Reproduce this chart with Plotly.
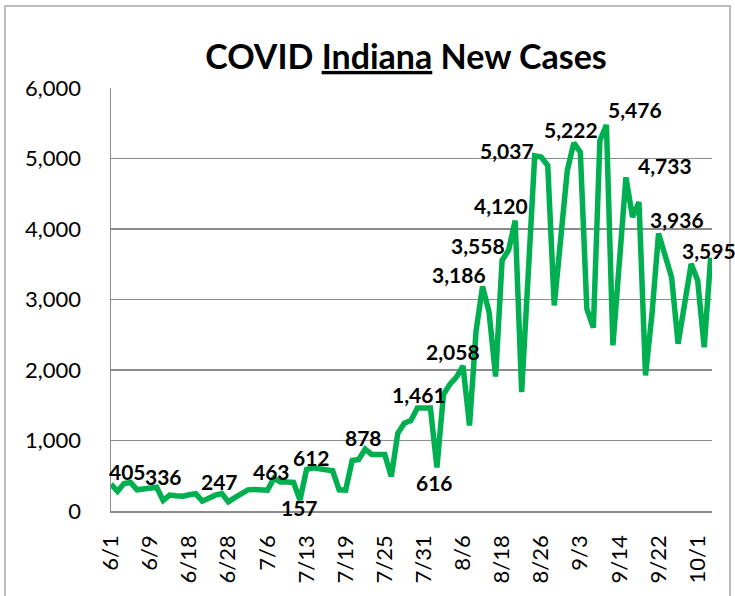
import plotly.graph_objects as go

# ---- data ----
tick_labels = ["6/1", "6/9", "6/18", "6/28", "7/6", "7/13", "7/19", "7/25",
               "7/31", "8/6", "8/18", "8/26", "9/3", "9/14", "9/22", "10/1"]
tick_every = 6

new_cases = [
    380, 280, 390, 405, 300, 310, 320, 336, 150, 225,
    215, 210, 230, 245, 140, 190, 225, 247, 130, 190,
    240, 300, 305, 300, 295, 463, 410, 410, 405, 157,
    590, 612, 600, 590, 570, 300, 295, 716, 730, 878,
    800, 800, 800, 489, 1104, 1245, 1284, 1461, 1461, 1461,
    616, 1650, 1800, 1900, 2058, 1213, 2550, 3186, 2820, 1908,
    3558, 3700, 4120, 1685, 3350, 5037, 5020, 4900, 2915, 3870,
    4830, 5222, 5090, 2868, 2600, 5255, 5476, 2350, 3600, 4733,
    4168, 4380, 1922, 2800, 3936, 3650, 3316, 2372, 2900, 3506,
    3270, 2323, 3595,
]

labelled_points = [3, 7, 17, 25, 29, 31, 39, 47, 50, 54, 57, 60, 62, 65,
                   71, 76, 79, 84, 92]

# label placement (pixel offsets from each labelled point) - style only
label_offsets = {
    3: (-3, 11), 7: (7, 11), 17: (-2, 12), 25: (-2, 7), 29: (-1, -8),
    31: (-2, 10), 39: (-2, 12), 47: (2, 14), 50: (-2, -15), 54: (-10, 14),
    57: (-24, 12), 60: (-24, 15), 62: (-14, 15), 65: (-28, 5),
    71: (-3, 13), 76: (29, 15), 79: (39, 12), 84: (18, 14), 92: (-2, 7),
}

x_idx = list(range(len(new_cases)))
tick_vals = [i * tick_every for i in range(len(tick_labels))]

GREEN = "#00B050"
GRID = "#8c8c8c"
FONT = "Lato"

fig = go.Figure()
fig.add_trace(go.Scatter(
    x=x_idx, y=new_cases, mode="lines",
    line=dict(color=GREEN, width=5.5),
    hoverinfo="skip", showlegend=False,
))

annotations = []
for i in labelled_points:
    dx, dy = label_offsets[i]
    annotations.append(dict(
        x=i, y=new_cases[i], xref="x", yref="y",
        text=f"{new_cases[i]:,}", showarrow=False,
        xanchor="center", yanchor="middle",
        xshift=dx, yshift=dy,
        font=dict(family=FONT, size=21, color="black", weight="bold"),
    ))

L, R, T, B = 111, 23, 88, 85
W, H = 735, 596
pw, ph = W - L - R, H - T - B

fig.update_layout(
    width=W, height=H,
    margin=dict(l=L, r=R, t=T, b=B, pad=0),
    paper_bgcolor="white", plot_bgcolor="white",
    title=dict(
        text="<b>COVID <u>Indiana</u> New Cases</b>",
        x=406 / W, y=1 - 57 / H, xref="container",
        yref="container", xanchor="center", yanchor="middle",
        font=dict(family=FONT, size=34, color="black"),
    ),
    xaxis=dict(
        range=[0, 92.2], tickvals=tick_vals, ticktext=tick_labels,
        tickangle=-90, showgrid=False, zeroline=False,
        showline=True, linecolor=GRID, linewidth=1.5,
        ticks="outside", ticklen=14, tickcolor="rgba(0,0,0,0)",
        tickfont=dict(family=FONT, size=22, color="black"),
    ),
    yaxis=dict(
        range=[0, 6000], dtick=1000, tickformat=",",
        showgrid=True, gridcolor=GRID, gridwidth=1.5, zeroline=False,
        showline=True, linecolor=GRID, linewidth=1.5,
        ticks="outside", ticklen=24, tickcolor="rgba(0,0,0,0)",
        tickfont=dict(family=FONT, size=22, color="black"),
    ),
    annotations=annotations,
    shapes=[dict(
        type="rect", xref="paper", yref="paper",
        x0=(5 - L) / pw, x1=(730 - L) / pw,
        y0=(T + ph - 600) / ph, y1=(T + ph - 6) / ph,
        line=dict(color="#a6a6a6", width=1.5), layer="below",
    )],
)

fig.write_html(
    "out.html",
    config={"displayModeBar": False, "staticPlot": True},
    post_script="document.body.style.margin='0';document.body.style.overflow='hidden';",
)
